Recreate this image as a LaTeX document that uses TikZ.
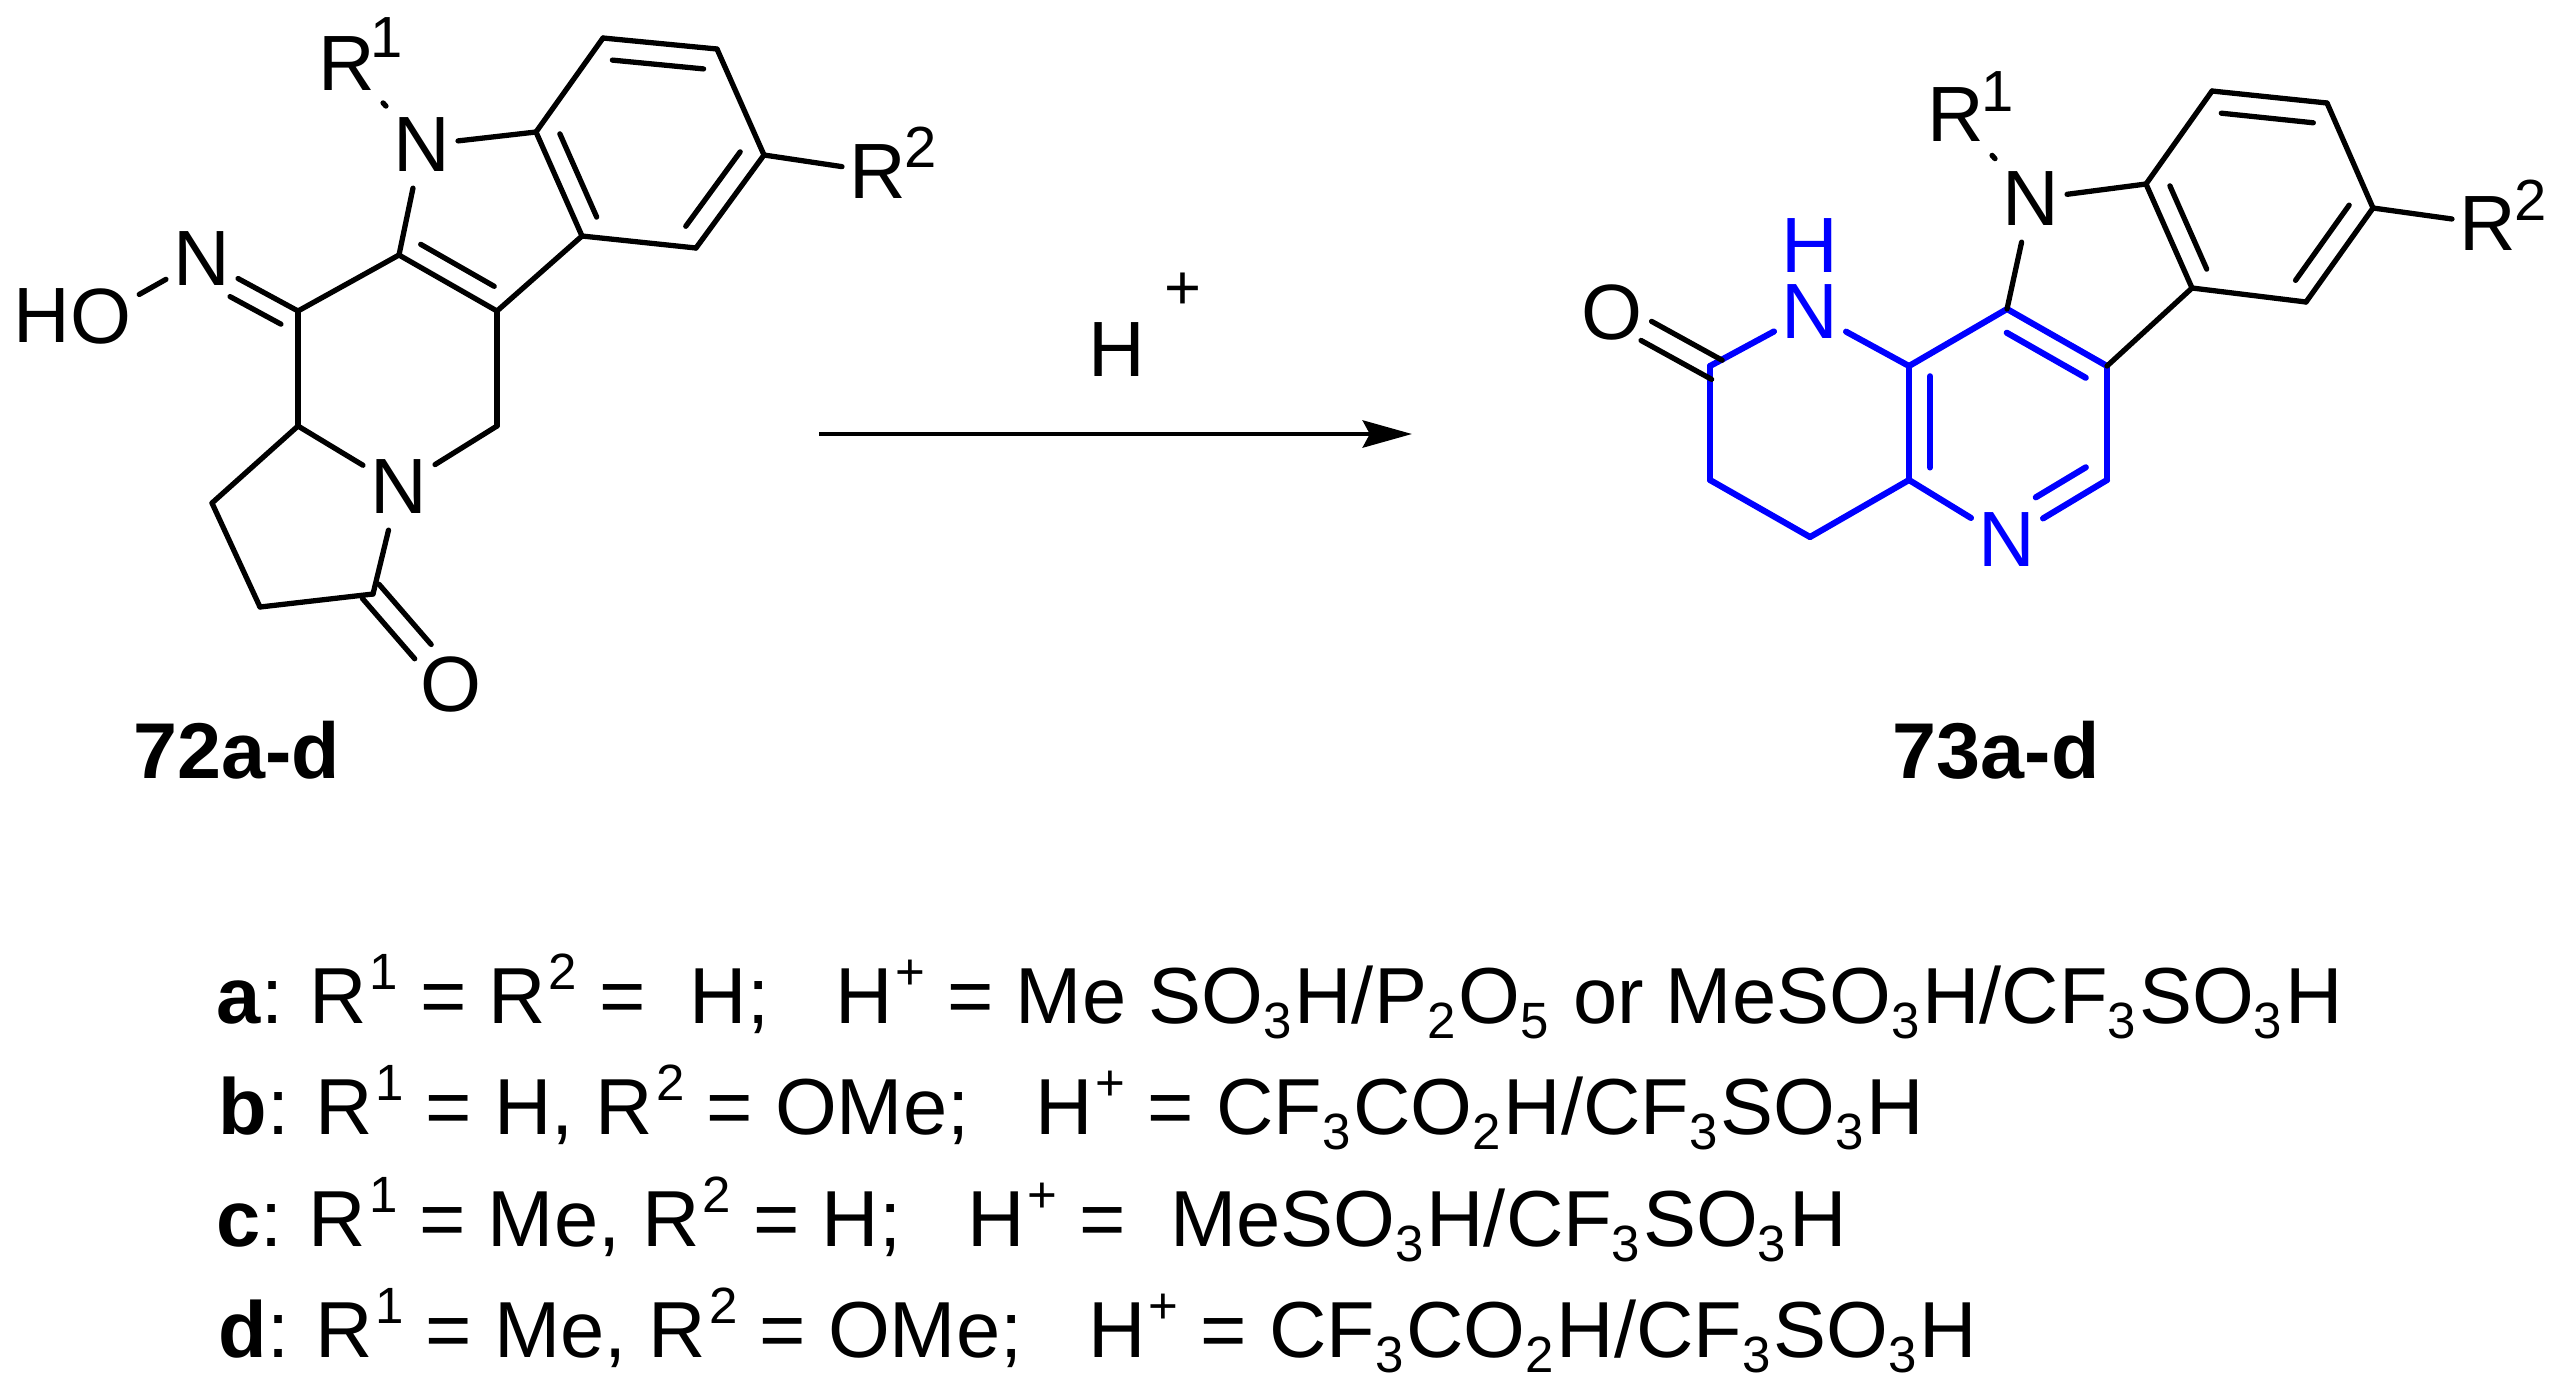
\documentclass[tikz,border=0pt]{standalone}
\usepackage{fontspec}
\setmainfont{Liberation Sans}
\usetikzlibrary{calc,arrows.meta}
\definecolor{ringblue}{RGB}{0,0,255}
\newcommand{\rup}[1]{\kern.8pt\raisebox{9.4pt}{\fontsize{14.5}{14.5}\selectfont #1}}
\newcommand{\rdn}[1]{\raisebox{-4.5pt}{\fontsize{14.5}{14.5}\selectfont #1}\kern.8pt\relax}
\tikzset{
        bond/.style={line width=1.5pt, line cap=round, line join=round},
        bluebond/.style={bond, line width=1.75pt, ringblue},
        atom/.style={inner xsep=2pt, inner ysep=4.4pt, font=\fontsize{22.3}{26}\selectfont},
        blueatom/.style={atom, text=ringblue},
        sup/.style={inner sep=0pt, font=\fontsize{16.5}{18}\selectfont},
        tag/.style={inner sep=0pt, anchor=base, font=\fontsize{22.5}{26}\selectfont\bfseries},
        row/.style={inner sep=0pt, anchor=base west, font=\fontsize{22.6}{26}\selectfont},
}

\begin{document}
\begin{tikzpicture}[x=.01cm, y=-.01cm]
        \useasboundingbox (0,0) rectangle (2561,1390);

        \foreach \name/\pos in {a1/{603,38}, a2/{717,49}, a3/{764,155}, a4/{696,248}, a5/{582,236}, a6/{536,132},
                a7/{399,255}, a8/{497,311}, a9/{298,311}, a10/{298,426}, a11/{497,426}, a12/{212,503}, a13/{260,607}, a14/{373,594},
                b1/{2212,91}, b2/{2327,103}, b3/{2373,208}, b4/{2306,302}, b5/{2192,288}, b6/{2146,184},
                b7/{2007,309}, b8/{2107,366}, b9/{1909,366}, b10/{1909,480}, b11/{2107,480}, b12/{1810,537}, b13/{1710,480}, b14/{1710,366}}
                \coordinate (\name) at (\pos);

        \node (n1) at (422,145) [atom] {N};
        \node (n2) at (399,487) [atom] {N};
        \node (n3) at (202,259) [atom] {N};
        \node (oh) at (101,316) [atom] {O};
        \node (hh) at (42,316) [atom] {H};
        \node (ok) at (451,684) [atom] {O};
        \node (rl1) at (347,64) [atom] {R};
        \node (rl2) at (878,172) [atom] {R};
        \node (sl1) at (387,38) [sup] {1};
        \node (sl2) at (921,147) [sup] {2};

        \node (m1) at (2031,199) [atom] {N};
        \node (m2) at (2007,540) [blueatom] {N};
        \node (m3) at (1810,312) [blueatom, inner ysep=1pt] {N};
        \node (hn) at (1810,246) [blueatom, inner ysep=0pt] {H};
        \node (om) at (1612,312) [atom] {O};
        \node (rr1) at (1956,115) [atom] {R};
        \node (rr2) at (2488,224) [atom] {R};
        \node (sr1) at (1998,92) [sup] {1};
        \node (sr2) at (2531,200) [sup] {2};

        \foreach \from/\to in {b7/b8, b8/b11, b11/m2, m2/b10, b10/b9, b9/b7, b9/m3, m3/b14, b14/b13, b13/b12, b12/b10}
                \draw[bluebond] (\from) -- (\to);
        \foreach \from/\to/\s/\t/\d in {b7/b8/.1/.89/-5.9, b9/b10/.09/.89/6, b11/m2/.1/.6/-6.2}
                \draw[bluebond] ($(\from)!\s!(\to)!\d pt!90:(\to)$) -- ($(\from)!\t!(\to)!\d pt!90:(\to)$);

        \foreach \from/\to in {a1/a2, a2/a3, a3/a4, a4/a5, a5/a6, a6/a1, a6/n1, n1/a7, a7/a8, a8/a5, a7/a9, a9/a10, a10/a12,
                a12/a13, a13/a14, a14/n2, n2/a10, n2/a11, a11/a8, a9/n3, n3/oh, n1/rl1, a3/rl2,
                b1/b2, b2/b3, b3/b4, b4/b5, b5/b6, b6/b1, b6/m1, m1/b7, b8/b5, m1/rr1, b3/rr2}
                \draw[bond] (\from) -- (\to);
        \foreach \from/\to/\s/\t/\d in {a1/a2/.1/.9/-6, a6/a5/.1/.9/6, a3/a4/.1/.9/-6, a7/a8/.12/.87/5.7, a9/n3/.08/.61/5.6,
                a14/ok/-.03/.64/3.1, a14/ok/-.03/.64/-3.1,
                b1/b2/.1/.9/-6, b6/b5/.1/.9/6, b3/b4/.1/.9/-6,
                b14/om/-.07/.65/3.1, b14/om/-.07/.65/-3.1}
                \draw[bond] ($(\from)!\s!(\to)!\d pt!90:(\to)$) -- ($(\from)!\t!(\to)!\d pt!90:(\to)$);

        \coordinate (arrowa) at (819,434);
        \coordinate (arrowb) at (1412,434);
        \draw[line width=1.4pt, -{Stealth[length=14pt, width=7.7pt, inset=2pt]}] (arrowa) -- (arrowb);
        \node (hplus) at (1117,350) [atom] {H};
        \node (plus) at (1183,291) [inner sep=0pt, font=\fontsize{18}{20}\selectfont] {+};

        \node (tl) at (237,778) [tag] {72a-d};
        \node (tr) at (1996,778) [tag] {73a-d};

        \node (rowa) at (216,1023) [row] {\textbf{a}:\kern-1pt{} R\rup{1} = R\rup{2} = ~H;~~~H\rup{+} = Me SO\rdn{3}H/P\rdn{2}O\rdn{5} or MeSO\rdn{3}H/CF\rdn{3}SO\rdn{3}H};
        \node (rowb) at (218,1134) [row] {\textbf{b}:\kern-1pt{} R\rup{1} = H, R\rup{2} = OMe;~~~H\rup{+} = CF\rdn{3}CO\rdn{2}H/CF\rdn{3}SO\rdn{3}H};
        \node (rowc) at (216,1246) [row] {\textbf{c}:\kern-1pt{} R\rup{1} = Me, R\rup{2} = H;~~~H\rup{+} = ~MeSO\rdn{3}H/CF\rdn{3}SO\rdn{3}H};
        \node (rowd) at (218,1357) [row] {\textbf{d}:\kern-1pt{} R\rup{1} = Me, R\rup{2} = OMe;~~~H\rup{+} = CF\rdn{3}CO\rdn{2}H/CF\rdn{3}SO\rdn{3}H};
\end{tikzpicture}
\end{document}
